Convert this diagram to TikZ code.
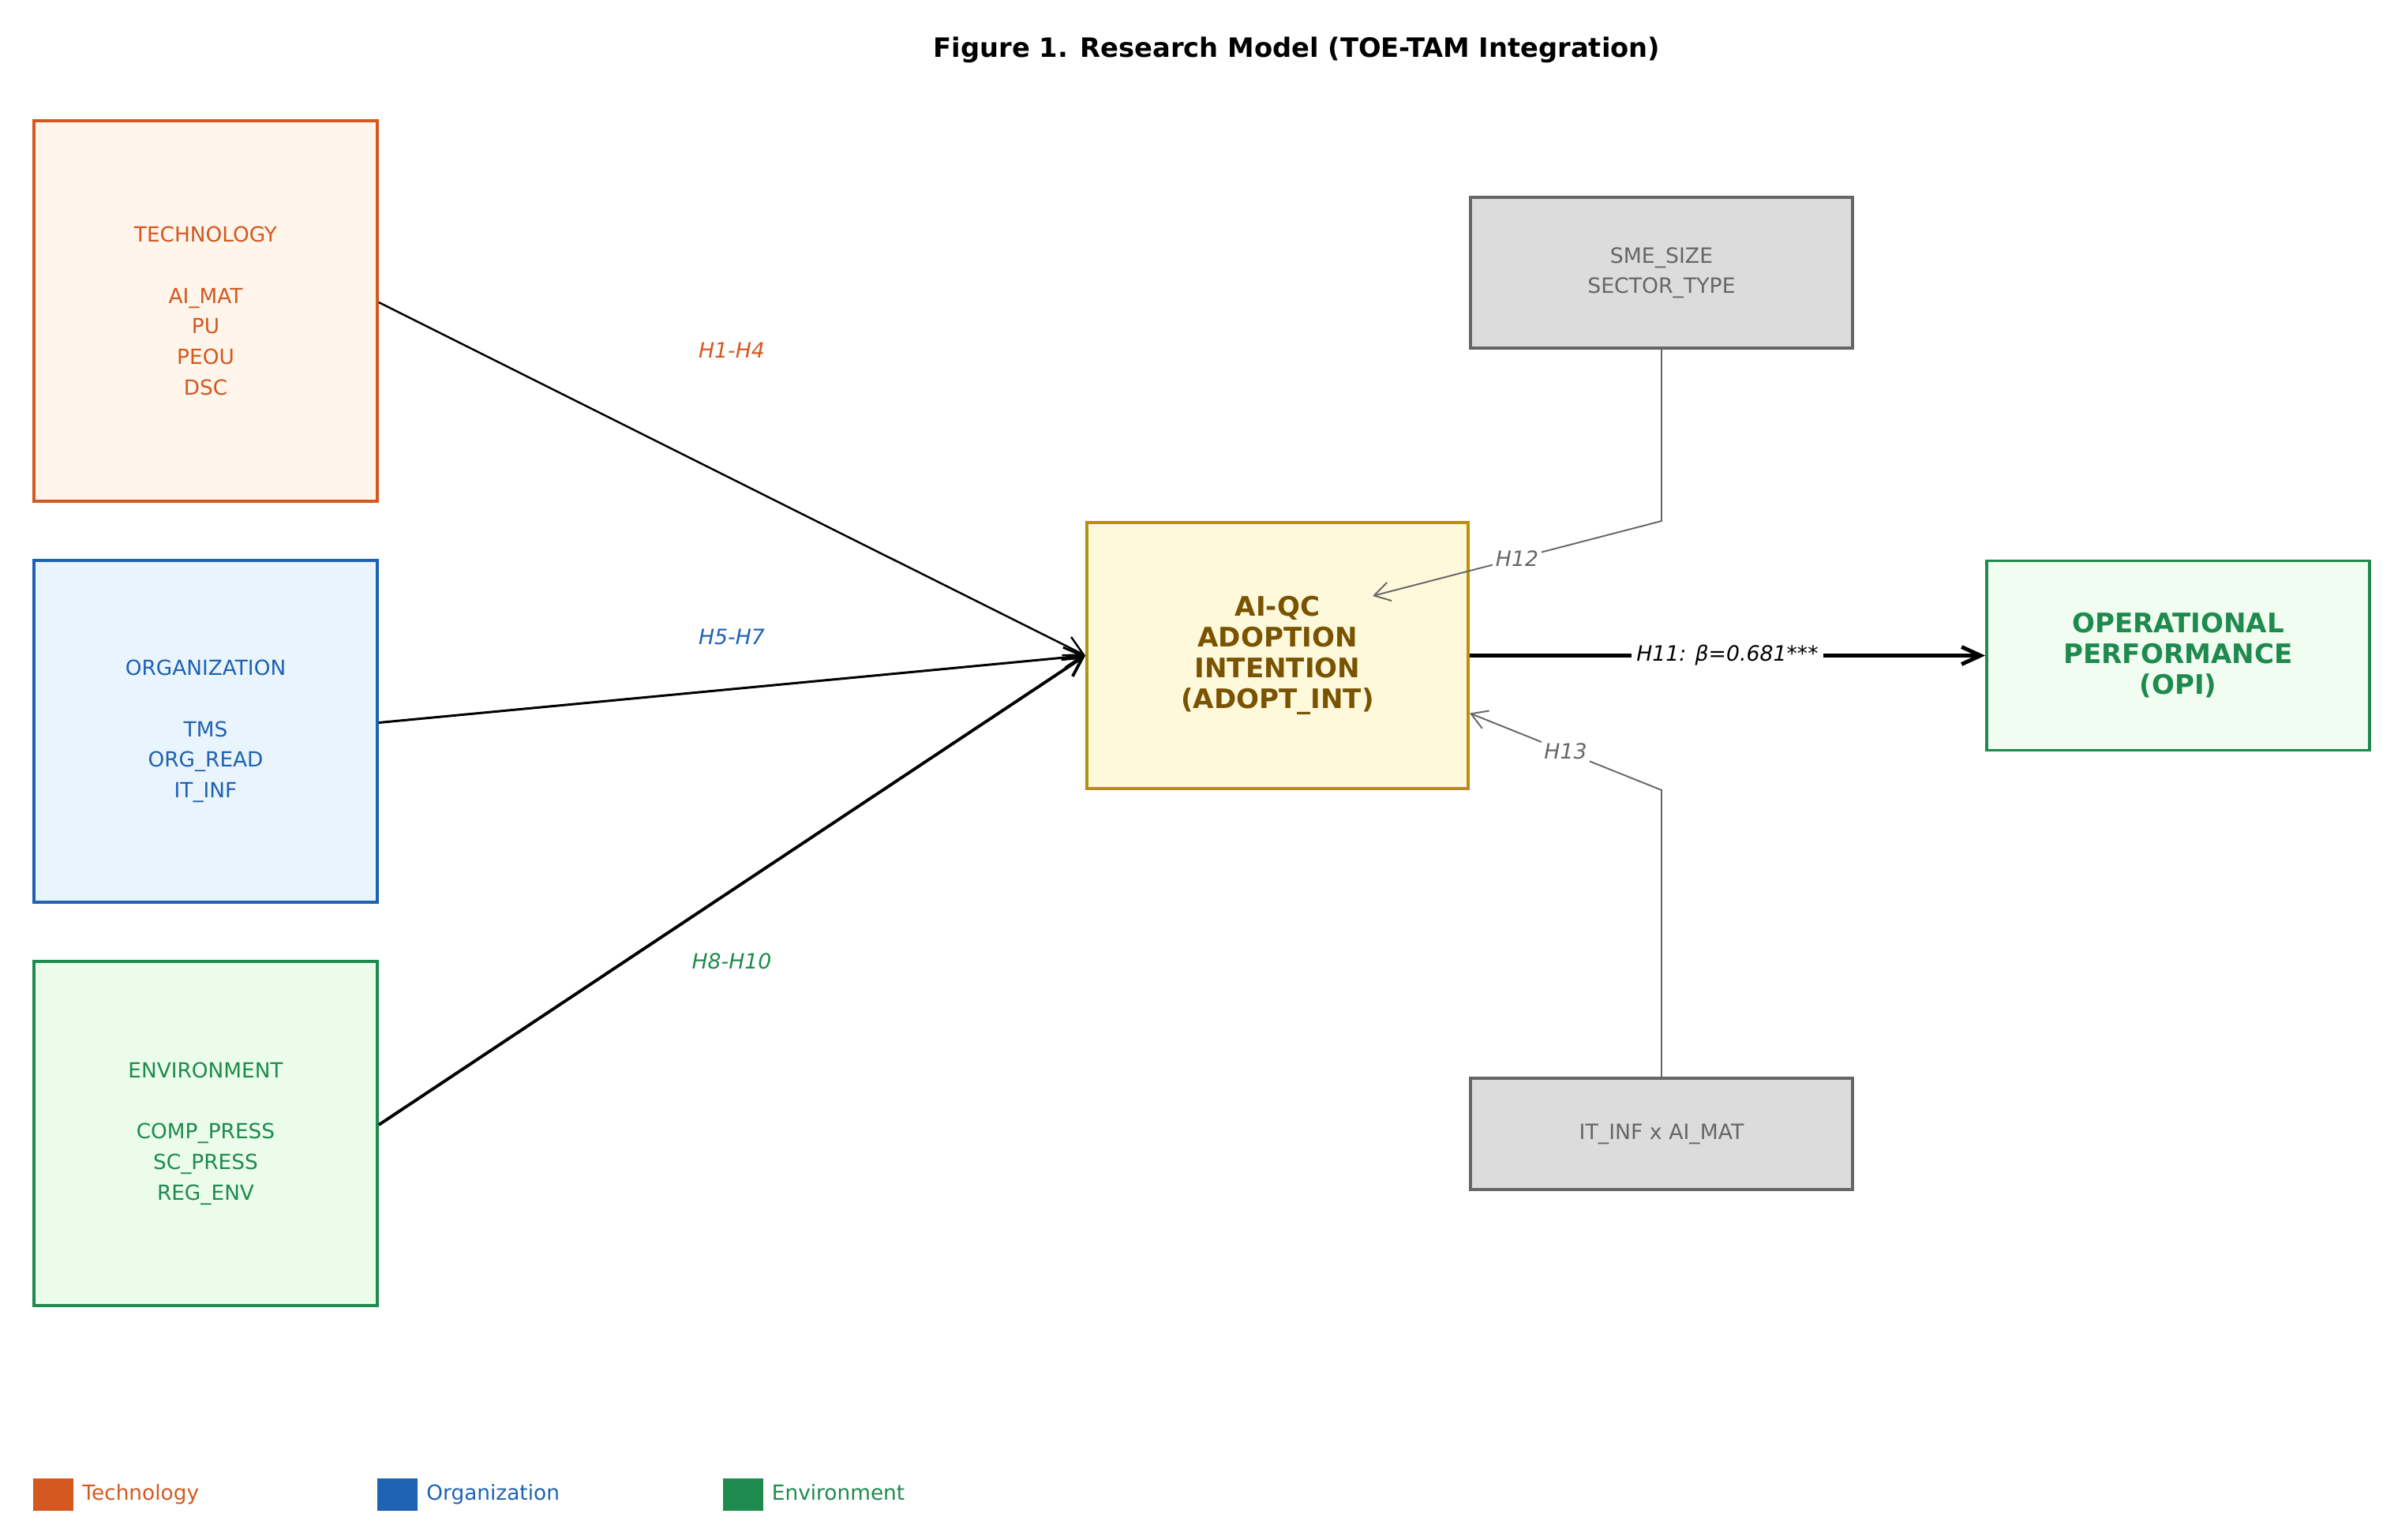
\documentclass[tikz,border=0pt]{standalone}
\usepackage{fontspec}
\setmainfont{DejaVu Sans}
\usepackage{tikz}
\usetikzlibrary{arrows.meta, positioning, calc}
\definecolor{techc}{HTML}{D4581F}
\definecolor{techf}{HTML}{FFF5EB}
\definecolor{orgc}{HTML}{1E62B3}
\definecolor{orgf}{HTML}{EAF4FD}
\definecolor{envc}{HTML}{1E8A4E}
\definecolor{envf}{HTML}{EBFDEA}
\definecolor{opif}{HTML}{F0FDF0}
\definecolor{adoptc}{HTML}{B8900A}
\definecolor{adoptf}{HTML}{FFF9DC}
\definecolor{adoptt}{HTML}{7A5300}
\definecolor{grayc}{HTML}{666666}
\definecolor{grayf}{HTML}{DCDCDC}
\tikzset{
  box/.style={draw, line width=1.1pt, align=center, inner sep=0pt, font=\fontsize{7.5}{11}\selectfont},
  cons/.style={box, minimum width=4.35cm},
  ctrl/.style={box, draw=grayc, fill=grayf, text=grayc, minimum width=4.84cm, font=\fontsize{7.6}{10.7}\selectfont},
  arr/.style={-{Straight Barb[length=2.4mm,width=2.6mm]}, black},
  garr/.style={-{Straight Barb[length=2mm,width=2.4mm]}, grayc, line width=0.55pt},
  hlab/.style={font=\fontsize{7.6}{9}\selectfont\itshape},
  glab/.style={hlab, fill=white, text=grayc, inner sep=1pt},
  legbox/.style={minimum width=0.51cm, minimum height=0.41cm, inner sep=0pt},
  legtxt/.style={inner sep=0pt, text height=1.6ex, text depth=0.9ex, font=\fontsize{7.5}{9}\selectfont},
}

\begin{document}
\begin{tikzpicture}
  \useasboundingbox (0,0) rectangle (30.33,-19.50);
  \node[font=\fontsize{9.6}{11}\selectfont\bfseries] (title) at (16.43,-0.63) {Figure 1. Research Model (TOE-TAM Integration)};

  % TOE constructs
  \node[cons, draw=techc, fill=techf, text=techc, minimum height=4.82cm] (tech) at (2.605,-3.94) {TECHNOLOGY\\[11pt]AI\_MAT\\PU\\PEOU\\DSC};
  \node[cons, draw=orgc, fill=orgf, text=orgc, minimum height=4.33cm] (org) at (2.605,-9.265) {ORGANIZATION\\[11pt]TMS\\ORG\_READ\\IT\_INF};
  \node[cons, draw=envc, fill=envf, text=envc, minimum height=4.36cm] (env) at (2.605,-14.36) {ENVIRONMENT\\[11pt]COMP\_PRESS\\SC\_PRESS\\REG\_ENV};

  \node[box, draw=adoptc, fill=adoptf, text=adoptt, minimum width=4.83cm, minimum height=3.37cm, font=\fontsize{9.7}{11.1}\selectfont\bfseries] (adopt) at (16.185,-8.305) {AI-QC\\ADOPTION\\INTENTION\\(ADOPT\_INT)};
  \node[box, draw=envc, fill=opif, text=envc, minimum width=4.85cm, minimum height=2.40cm, font=\fontsize{9.7}{11.1}\selectfont\bfseries] (opi) at (27.595,-8.305) {OPERATIONAL\\PERFORMANCE\\(OPI)};

  % controls and moderator
  \node[ctrl, minimum height=1.91cm] (sme) at (21.05,-3.455) {SME\_SIZE\\SECTOR\_TYPE};
  \node[ctrl, minimum height=1.41cm] (inter) at (21.05,-14.365) {IT\_INF x AI\_MAT};

  \coordinate (h12tip) at (17.39,-7.55);
  \coordinate (h13tip) at ([yshift=-7.3mm]adopt.east);

  \draw[arr, line width=0.7pt] ([yshift=1.1mm]tech.east) -- (adopt.west);
  \draw[arr, line width=0.85pt] ([yshift=1.1mm]org.east) -- (adopt.west);
  \draw[arr, line width=1.1pt] ([yshift=1.1mm]env.east) -- (adopt.west);
  \node[hlab, text=techc] (h14) at (9.27,-4.44) {H1-H4};
  \node[hlab, text=orgc] (h57) at (9.27,-8.07) {H5-H7};
  \node[hlab, text=envc] (h810) at (9.27,-12.18) {H8-H10};

  \draw[arr, line width=1.4pt, -{Straight Barb[length=2.4mm,width=2.2mm]}] (adopt.east) -- node[hlab, fill=white, inner sep=0.6mm] (h11) {H11: β=0.681***} (opi.west);
  \draw[garr] (sme.south) -- (sme.south |- adopt.north) -- node[glab] (h12) {H12} (h12tip);
  \draw[garr] (inter.north) -- (inter.north |- adopt.south) -- node[glab] (h13) {H13} (h13tip);

  % legend
  \node[legbox, fill=techc] (legt) at (0.675,-18.935) {};
  \node[legtxt, text=techc, right=1mm of legt] (legtl) {Technology};
  \node[legbox, fill=orgc] (lego) at (5.035,-18.935) {};
  \node[legtxt, text=orgc, right=1mm of lego] (legol) {Organization};
  \node[legbox, fill=envc] (lege) at (9.41,-18.935) {};
  \node[legtxt, text=envc, right=1mm of lege] (legel) {Environment};
\end{tikzpicture}
\end{document}
